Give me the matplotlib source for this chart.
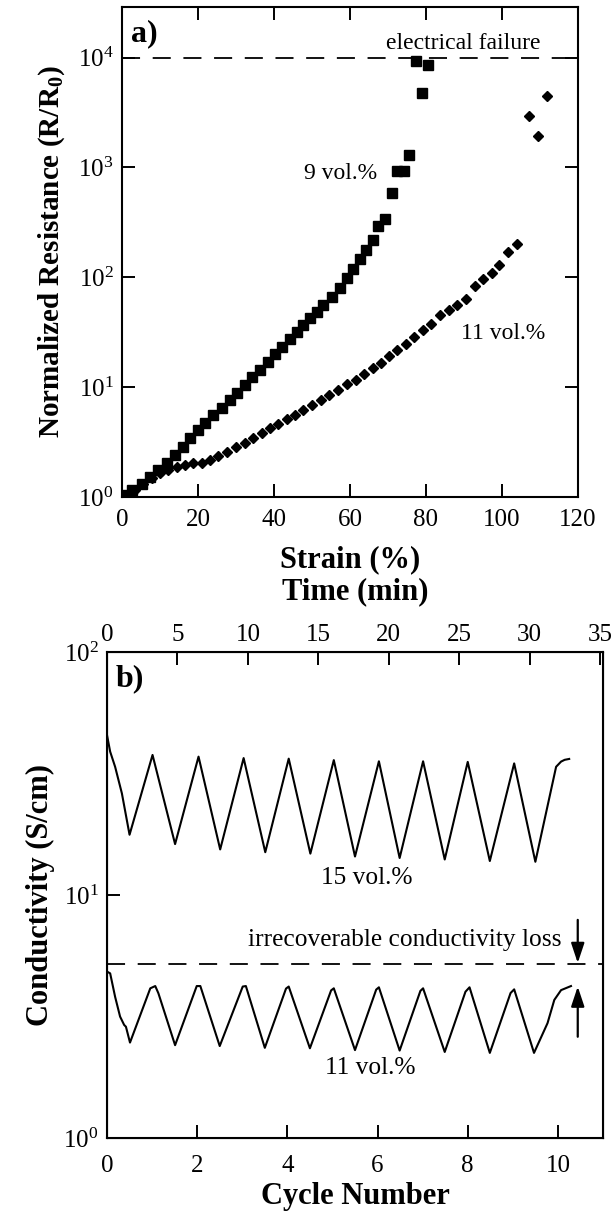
import matplotlib
matplotlib.use("Agg")
import matplotlib.pyplot as plt

plt.rcParams["font.family"] = ["Liberation Serif", "DejaVu Serif"]
plt.rcParams["mathtext.fontset"] = "custom"
plt.rcParams["mathtext.rm"] = "Liberation Serif"
plt.rcParams["mathtext.it"] = "Liberation Serif:italic"
plt.rcParams["mathtext.bf"] = "Liberation Serif:bold"

# --- panel a: normalized resistance vs strain ---
strain_9 = [0, 0.3, 2.6, 5.2, 7.4, 9.6, 11.8, 13.9, 16.1, 17.9, 20.1, 21.8, 24.0,
            26.2, 28.4, 30.2, 32.4, 34.1, 36.3, 38.5, 40.3, 42.0, 44.2, 46.0,
            47.7, 49.5, 51.2, 53.0, 55.2, 57.4, 59.1, 60.9, 62.6, 64.2, 66.0,
            67.4, 69.2, 71.0, 72.4, 74.2, 75.6, 77.4, 78.9, 80.4]
res_9 = [1.0, 1.04, 1.16, 1.31, 1.53, 1.76, 2.02, 2.41, 2.87, 3.42, 4.06, 4.68,
         5.56, 6.4, 7.6, 8.77, 10.4, 12.4, 14.3, 17.0, 20.2, 23.2, 27.7, 31.8,
         36.6, 42.2, 48.4, 55.6, 66.1, 80, 98, 120, 146, 176, 220, 291, 337,
         584, 937, 937, 1290, 9250, 4730, 8640]

strain_11 = [0, 1.5, 3.4, 5.6, 7.8, 10.0, 12.2, 14.4, 16.6, 18.8, 21.0, 23.2,
             25.3, 27.5, 30.0, 32.4, 34.6, 36.8, 38.9, 41.1, 43.3, 45.5, 47.7,
             49.9, 52.3, 54.6, 56.9, 59.1, 61.6, 63.7, 66.0, 68.1, 70.3, 72.4,
             74.7, 76.8, 79.1, 81.2, 83.7, 86.1, 88.2, 90.5, 92.9, 94.9, 97.3,
             99.3, 101.7, 103.9, 107.2, 109.4, 111.8]
res_11 = [1.0, 1.06, 1.16, 1.31, 1.48, 1.64, 1.76, 1.86, 1.95, 2.02, 2.02, 2.17,
          2.36, 2.58, 2.83, 3.12, 3.41, 3.79, 4.21, 4.61, 5.08, 5.56, 6.17,
          6.85, 7.62, 8.46, 9.4, 10.6, 11.7, 13.3, 14.8, 16.6, 19.1, 21.7,
          24.6, 28.3, 33.0, 37.9, 45.1, 50.1, 55.6, 64, 82.8, 97.3, 109, 128,
          170, 200, 2930, 1914, 4420]

failure_level = 1e4

# --- panel b: conductivity vs cycle number ---
cycle_15 = [0, 0.07, 0.18, 0.33, 0.5, 1.01, 1.51, 2.03, 2.51, 3.03, 3.51, 4.03,
            4.51, 5.03, 5.5, 6.03, 6.49, 7.01, 7.49, 8.0, 8.49, 9.03, 9.5,
            9.96, 10.07, 10.15, 10.25]
cond_15 = [45.5, 38.9, 33.7, 26.2, 17.7, 37.7, 16.2, 37.1, 15.4, 36.6, 15.0,
           36.4, 14.8, 35.9, 14.4, 35.5, 14.2, 35.5, 14.0, 35.3, 13.8, 34.8,
           13.7, 33.7, 35.4, 36.0, 36.3]

cycle_11 = [0, 0.07, 0.18, 0.29, 0.38, 0.42, 0.51, 0.96, 1.07, 1.14, 1.51,
            1.99, 2.07, 2.5, 3.01, 3.08, 3.5, 3.97, 4.03, 4.5, 4.97, 5.03, 5.5,
            5.97, 6.03, 6.49, 6.95, 7.01, 7.49, 7.95, 8.04, 8.49, 8.95, 9.03,
            9.47, 9.77, 9.92, 10.07, 10.29]
cond_11 = [4.84, 4.76, 3.81, 3.16, 2.92, 2.87, 2.47, 4.13, 4.22, 3.94, 2.41,
           4.22, 4.22, 2.39, 4.2, 4.22, 2.35, 4.12, 4.2, 2.34, 4.05, 4.13, 2.30,
           4.08, 4.17, 2.29, 4.03, 4.13, 2.26, 4.0, 4.17, 2.24, 3.95, 4.09,
           2.24, 2.97, 3.70, 4.06, 4.22]

loss_level = 5.2

W, H = 615, 1214
fig = plt.figure(figsize=(W / 100, H / 100), dpi=100)

tick_kw = dict(direction="in", length=9.5, width=1.4, labelsize=18)
label_kw = dict(fontsize=22, fontweight="bold")
arrow_kw = dict(arrowstyle="-|>,head_length=1.2,head_width=0.4",
                color="black", lw=1.6, shrinkA=0, shrinkB=0)

# panel a
ax1 = fig.add_axes([122 / W, 1 - 497 / H, 456 / W, 490 / H])
ax1.set_yscale("log")
ax1.plot(strain_9, res_9, "s", color="black", ms=7)
ax1.plot(strain_11, res_11, "D", color="black", ms=5.6)
ax1.axhline(failure_level, color="black", lw=1.3, ls=(0, (10, 7)))
ax1.set_xlim(0, 120)
ax1.set_ylim(1, 10 ** 4.46)
ax1.set_xticks([0, 20, 40, 60, 80, 100, 120])
ax1.set_yticks([1, 10, 100, 1000, 10000])
ax1.minorticks_off()
ax1.tick_params(which="both", top=True, right=True, **tick_kw)
ax1.tick_params(axis="x", pad=9)
ax1.tick_params(axis="y", pad=6)
ax1.text(110, 13400, "electrical failure", ha="right", va="center", fontsize=17)
ax1.text(57.4, 881, "9 vol.%", ha="center", va="center", fontsize=17)
ax1.text(100.3, 31, "11 vol.%", ha="center", va="center", fontsize=17)
ax1.text(2.4, 16500, "a)", ha="left", va="center", fontsize=23, fontweight="bold")
ax1.set_xlabel("Strain (%)", labelpad=10, **label_kw)
ax1.set_ylabel(r"Normalized Resistance (R/R$_\mathbf{0}$)", labelpad=8,
               fontsize=21, fontweight="bold")
for s in ax1.spines.values():
    s.set_linewidth(1.5)

# panel b
ax2 = fig.add_axes([107 / W, 1 - 1138 / H, 496 / W, 486 / H])
ax2.set_yscale("log")
ax2.plot(cycle_15, cond_15, color="black", lw=1.5)
ax2.plot(cycle_11, cond_11, color="black", lw=1.5)
ax2.axhline(loss_level, color="black", lw=1.3, ls=(0, (10, 7)))
ax2.annotate("", xy=(10.44, 5.25), xytext=(10.44, 7.9), arrowprops=arrow_kw)
ax2.annotate("", xy=(10.44, 4.2), xytext=(10.44, 2.61), arrowprops=arrow_kw)
ax2.text(10.08, 6.55, "irrecoverable conductivity loss", ha="right",
         va="center", fontsize=18.3)
ax2.text(5.77, 11.7, "15 vol.%", ha="center", va="center", fontsize=18.3)
ax2.text(5.84, 1.94, "11 vol.%", ha="center", va="center", fontsize=18.3)
ax2.text(0.2, 78, "b)", ha="left", va="center", fontsize=23, fontweight="bold")
ax2.set_xlim(0, 11)
ax2.set_ylim(1, 100)
ax2.set_xticks([0, 2, 4, 6, 8, 10])
ax2.set_yticks([1, 10, 100])
ax2.minorticks_off()
ax2.tick_params(which="both", **tick_kw)
ax2.tick_params(axis="x", pad=12)
ax2.tick_params(axis="y", pad=6)
ax2.set_xlabel("Cycle Number", labelpad=4, **label_kw)
ax2.set_ylabel("Conductivity (S/cm)", labelpad=6, **label_kw)
for s in ax2.spines.values():
    s.set_linewidth(1.5)

ax3 = ax2.twiny()
ax3.set_xlim(0, 35.2)
ax3.set_xticks([0, 5, 10, 15, 20, 25, 30, 35])
ax3.tick_params(pad=4, **tick_kw)
ax3.set_xlabel("Time (min)", **label_kw)
ax3.xaxis.set_label_coords(0.5, (1138 - 592) / 486)
ax3.xaxis.label.set_va("center")

fig.savefig("out.png", dpi=100)
